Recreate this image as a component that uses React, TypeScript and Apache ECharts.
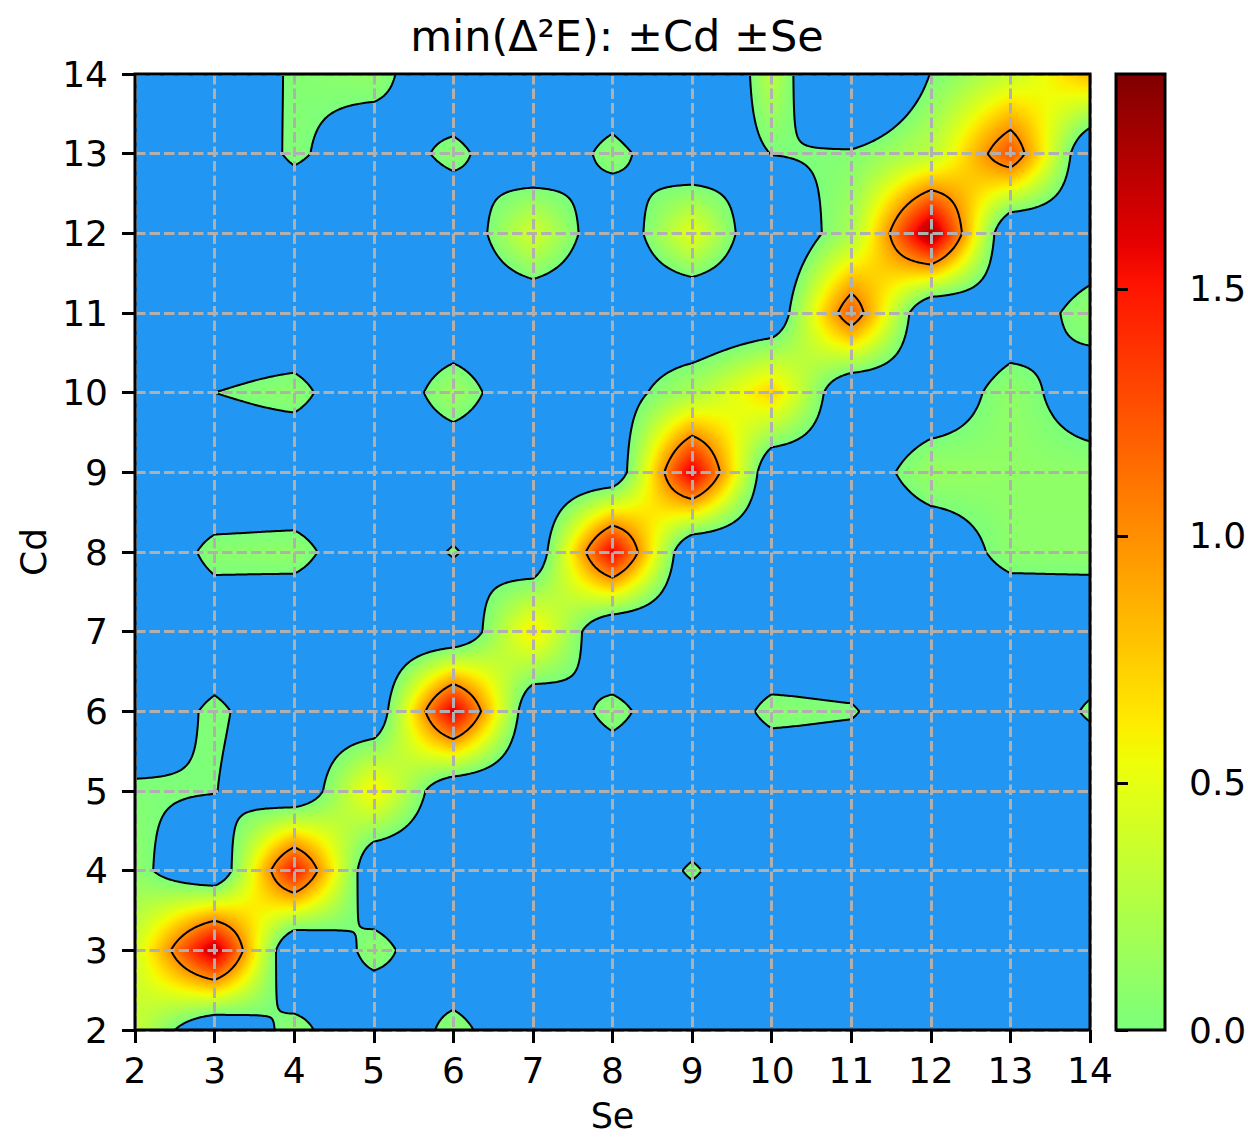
import React, { useEffect, useRef } from "react";
import * as echarts from "echarts";

// Se = 2..14 across, each row is one Cd value (below 0 draws blue)
const cd2 = [0.35, -0.35, 0.1, -0.35, 0.09, -0.3, -0.3, -0.3, -0.3, -0.3, -0.3, -0.3, -0.3];
const cd3 = [0.4, 1.75, -0.45, 0.105, -0.3, -0.3, -0.3, -0.3, -0.3, -0.3, -0.3, -0.3, -0.3];
const cd4 = [0.09, -0.35, 1.5, -0.33, -0.3, -0.3, -0.3, 0.033, -0.3, -0.3, -0.3, -0.3, -0.3];
const cd5 = [0.03, 0.01, -0.33, 0.62, -0.31, -0.3, -0.3, -0.3, -0.3, -0.3, 0.001, -0.3, -0.3];
const cd6 = [-0.2, 0.043, -0.2, -0.3, 1.65, -0.31, 0.088, -0.3, 0.07, 0.027, -0.3, -0.3, 0.037];
const cd7 = [-0.3, -0.2, -0.3, -0.3, -0.35, 0.65, -0.38, -0.3, -0.3, -0.3, -0.3, -0.25, -0.25];
const cd8 = [-0.3, 0.073, 0.1, -0.27, 0.021, -0.3, 1.6, -0.4, -0.3, -0.3, -0.2, 0.08, 0.09];
const cd9 = [-0.3, -0.3, -0.3, -0.3, -0.3, -0.3, -0.31, 1.65, -0.3, -0.18, 0.14, 0.1, 0.09];
const cd10 = [-0.3, 0.0005, 0.088, -0.3, 0.165, -0.3, -0.17, 0.22, 0.72, -0.35, -0.2, 0.1, -0.15];
const cd11 = [-0.3, -0.3, -0.3, -0.3, -0.3, -0.3, -0.3, -0.4, -0.3, 1.22, -0.4, -0.18, 0.1];
const cd12 = [-0.3, -0.3, -0.3, -0.3, -0.3, 0.42, -0.3, 0.5, -0.4, 0.22, 1.85, -0.4, -0.2];
const cd13 = [-0.3, -0.3, 0.044, -0.2, 0.073, -0.3, 0.088, -0.3, 0.005, 0.04, 0.3, 1.25, -0.35];
const cd14 = [-0.3, -0.3, 0.04, 0.1, -0.3, -0.3, -0.3, -0.9, 0.3, -0.9, 0.01, 0.35, 0.8];
const cdRows = [cd2, cd3, cd4, cd5, cd6, cd7, cd8, cd9, cd10, cd11, cd12, cd13, cd14];
const contourLevels = [0, 1];
const colorMax = 1.935;
const colorTicks = [0, 0.5, 1, 1.5];
const FONT = "DejaVu Sans";

function ease(t: number) {
  return 0.75 * t + 0.75 * t * t - 0.5 * t * t * t;
}
function surface(u: number, w: number) {
  const i = Math.min(11, Math.floor(u));
  const j = Math.min(11, Math.floor(w));
  const sx = ease(u - i);
  const sy = ease(w - j);
  return (
    (1 - sx) * (1 - sy) * cdRows[j][i] +
    sx * (1 - sy) * cdRows[j][i + 1] +
    (1 - sx) * sy * cdRows[j + 1][i] +
    sx * sy * cdRows[j + 1][i + 1]
  );
}
function seg(x: number, pts: number[][]) {
  for (let k = 1; k < pts.length; k++) {
    if (x <= pts[k][0]) {
      const a = pts[k - 1];
      const b = pts[k];
      return a[1] + ((b[1] - a[1]) * (x - a[0])) / (b[0] - a[0]);
    }
  }
  return pts[pts.length - 1][1];
}
function jet(x: number): [number, number, number] {
  const r = seg(x, [[0, 0], [0.35, 0], [0.66, 1], [0.89, 1], [1, 0.5]]);
  const g = seg(x, [[0, 0], [0.125, 0], [0.375, 1], [0.64, 1], [0.91, 0], [1, 0]]);
  const b = seg(x, [[0, 0.5], [0.11, 1], [0.34, 1], [0.65, 0], [1, 0]]);
  return [Math.round(r * 255), Math.round(g * 255), Math.round(b * 255)];
}
function valueColor(v: number): [number, number, number] {
  const c = Math.min(1, v / colorMax);
  return jet(0.5 + 0.5 * c);
}
function heatImage(size: number) {
  const cv = document.createElement("canvas");
  cv.width = size;
  cv.height = size;
  const ctx = cv.getContext("2d")!;
  const img = ctx.createImageData(size, size);
  const under = [0x21, 0x96, 0xf3];
  for (let py = 0; py < size; py++) {
    const w = 12 * (1 - (py + 0.5) / size);
    for (let px = 0; px < size; px++) {
      const v = surface((12 * (px + 0.5)) / size, w);
      const c = v < 0 ? under : valueColor(v);
      const o = (py * size + px) * 4;
      img.data[o] = c[0];
      img.data[o + 1] = c[1];
      img.data[o + 2] = c[2];
      img.data[o + 3] = 255;
    }
  }
  ctx.putImageData(img, 0, 0);
  return cv.toDataURL("image/png");
}
// marching squares, returns chains of [Se, Cd]
function contourChains(level: number, perCell: number) {
  const n = 12 * perCell;
  const val = (a: number, b: number) => surface(a / perCell, b / perCell) - level;
  const segs: number[][][] = [];
  const cross = (a: number, b: number, va: number, vb: number) => a + ((b - a) * va) / (va - vb);
  for (let j = 0; j < n; j++) {
    for (let i = 0; i < n; i++) {
      const v00 = val(i, j), v10 = val(i + 1, j), v11 = val(i + 1, j + 1), v01 = val(i, j + 1);
      const pts: number[][] = [];
      if (v00 < 0 !== v10 < 0) pts.push([cross(i, i + 1, v00, v10), j]);
      if (v10 < 0 !== v11 < 0) pts.push([i + 1, cross(j, j + 1, v10, v11)]);
      if (v01 < 0 !== v11 < 0) pts.push([cross(i, i + 1, v01, v11), j + 1]);
      if (v00 < 0 !== v01 < 0) pts.push([i, cross(j, j + 1, v00, v01)]);
      if (pts.length === 2) segs.push(pts);
      else if (pts.length === 4) {
        segs.push([pts[0], pts[1]]);
        segs.push([pts[2], pts[3]]);
      }
    }
  }
  const key = (p: number[]) => p[0].toFixed(5) + "," + p[1].toFixed(5);
  const ends = new Map<string, number[]>();
  segs.forEach((s, idx) => {
    [0, 1].forEach((e) => {
      const k = key(s[e]);
      if (!ends.has(k)) ends.set(k, []);
      ends.get(k)!.push(idx);
    });
  });
  const used = new Array(segs.length).fill(false);
  const chains: number[][][] = [];
  const walk = (chain: number[][]) => {
    for (;;) {
      const k = key(chain[chain.length - 1]);
      const next = (ends.get(k) || []).find((q) => !used[q]);
      if (next === undefined) return;
      used[next] = true;
      const s = segs[next];
      chain.push(key(s[0]) === k ? s[1] : s[0]);
    }
  };
  segs.forEach((s, idx) => {
    if (used[idx]) return;
    used[idx] = true;
    const chain = [s[0], s[1]];
    walk(chain);
    chain.reverse();
    walk(chain);
    chains.push(chain.map((p) => [2 + (12 * p[0]) / n, 2 + (12 * p[1]) / n]));
  });
  return chains;
}

export default function App() {
  const ref = useRef<HTMLDivElement>(null);
  useEffect(() => {
    const chart = echarts.init(ref.current!, undefined, { renderer: "svg" });
    const url = heatImage(956);
    const chains = contourLevels.flatMap((l) => contourChains(l, 40));
    const stops = Array.from({ length: 65 }, (_, i) => {
      const [r, g, b] = valueColor((colorMax * i) / 64);
      return { offset: i / 64, color: `rgb(${r},${g},${b})` };
    });
    const tickFont = { fontFamily: FONT, fontSize: 36, color: "#000" };
    const tick = { length: 13, lineStyle: { color: "#000", width: 3 } };
    const grids = { color: "#b0b0b0", width: 3, type: [10.5, 4] };
    chart.setOption({
      animation: false,
      backgroundColor: "#fff",
      title: {
        text: "min(Δ²E): ±Cd ±Se",
        left: 612,
        top: 9,
        textAlign: "center",
        textStyle: { fontFamily: FONT, fontSize: 43, fontWeight: "normal", color: "#000" },
      },
      grid: [
        { left: 135, top: 74, width: 955, height: 956, outerBoundsMode: "none" },
        { left: 1116, top: 74, width: 49, height: 956, outerBoundsMode: "none" },
      ],
      xAxis: [
        {
          type: "value",
          min: 2,
          max: 14,
          interval: 1,
          z: 5,
          name: "Se",
          nameLocation: "middle",
          nameGap: 72,
          nameTextStyle: { ...tickFont, fontSize: 35, lineHeight: 28 },
          axisLine: { show: false },
          axisTick: tick,
          axisLabel: { ...tickFont, margin: 22, formatter: (v: number) => String(v) },
          splitLine: { show: true, lineStyle: grids },
        },
        { gridIndex: 1, type: "value", min: 0, max: 1, show: false },
      ],
      yAxis: [
        {
          type: "value",
          min: 2,
          max: 14,
          interval: 1,
          z: 5,
          name: "Cd",
          nameLocation: "middle",
          nameGap: 84,
          nameTextStyle: tickFont,
          axisLine: { show: false },
          axisTick: tick,
          axisLabel: { ...tickFont, margin: 27, formatter: (v: number) => String(v) },
          splitLine: { show: true, lineStyle: grids },
        },
        {
          gridIndex: 1,
          type: "value",
          position: "right",
          min: 0,
          max: colorMax,
          z: 5,
          axisLine: { show: false },
          axisTick: { show: true, length: 12, lineStyle: tick.lineStyle, customValues: colorTicks },
          axisLabel: { ...tickFont, margin: 24, customValues: colorTicks, formatter: (v: number) => v.toFixed(1) },
          splitLine: { show: false },
        },
      ],
      series: [
        {
          type: "custom",
          coordinateSystem: "cartesian2d",
          silent: true,
          z: 2,
          data: [[2, 2]],
          renderItem: (_: any, api: any) => {
            const a = api.coord([2, 14]);
            const b = api.coord([14, 2]);
            return {
              type: "image",
              style: { image: url, x: a[0], y: a[1], width: b[0] - a[0], height: b[1] - a[1] },
            };
          },
        },
        {
          type: "custom",
          coordinateSystem: "cartesian2d",
          silent: true,
          z: 3,
          data: [[2, 2]],
          renderItem: (_: any, api: any) => ({
            type: "group",
            children: chains.map((c) => ({
              type: "polyline",
              shape: { points: c.map((p) => api.coord(p)) },
              style: { stroke: "#000", lineWidth: 2, fill: "none", lineJoin: "round" },
            })),
          }),
        },
        {
          type: "custom",
          coordinateSystem: "cartesian2d",
          silent: true,
          z: 10,
          data: [[2, 2]],
          renderItem: (_: any, api: any) => {
            const a = api.coord([2, 14]);
            const b = api.coord([14, 2]);
            return {
              type: "rect",
              shape: { x: a[0], y: a[1], width: b[0] - a[0], height: b[1] - a[1] },
              style: { fill: "none", stroke: "#000", lineWidth: 3 },
            };
          },
        },
        {
          type: "custom",
          coordinateSystem: "cartesian2d",
          xAxisIndex: 1,
          yAxisIndex: 1,
          silent: true,
          z: 3,
          data: [[0, 0]],
          renderItem: (_: any, api: any) => {
            const a = api.coord([0, colorMax]);
            const b = api.coord([1, 0]);
            return {
              type: "rect",
              shape: { x: a[0], y: a[1], width: b[0] - a[0], height: b[1] - a[1] },
              style: {
                stroke: "#000",
                lineWidth: 3,
                fill: { type: "linear", x: 0, y: 1, x2: 0, y2: 0, colorStops: stops },
              },
            };
          },
        },
      ],
    });
    return () => chart.dispose();
  }, []);
  return <div ref={ref} style={{ position: "absolute", left: 0, top: 0, width: 1248, height: 1138 }} />;
}
